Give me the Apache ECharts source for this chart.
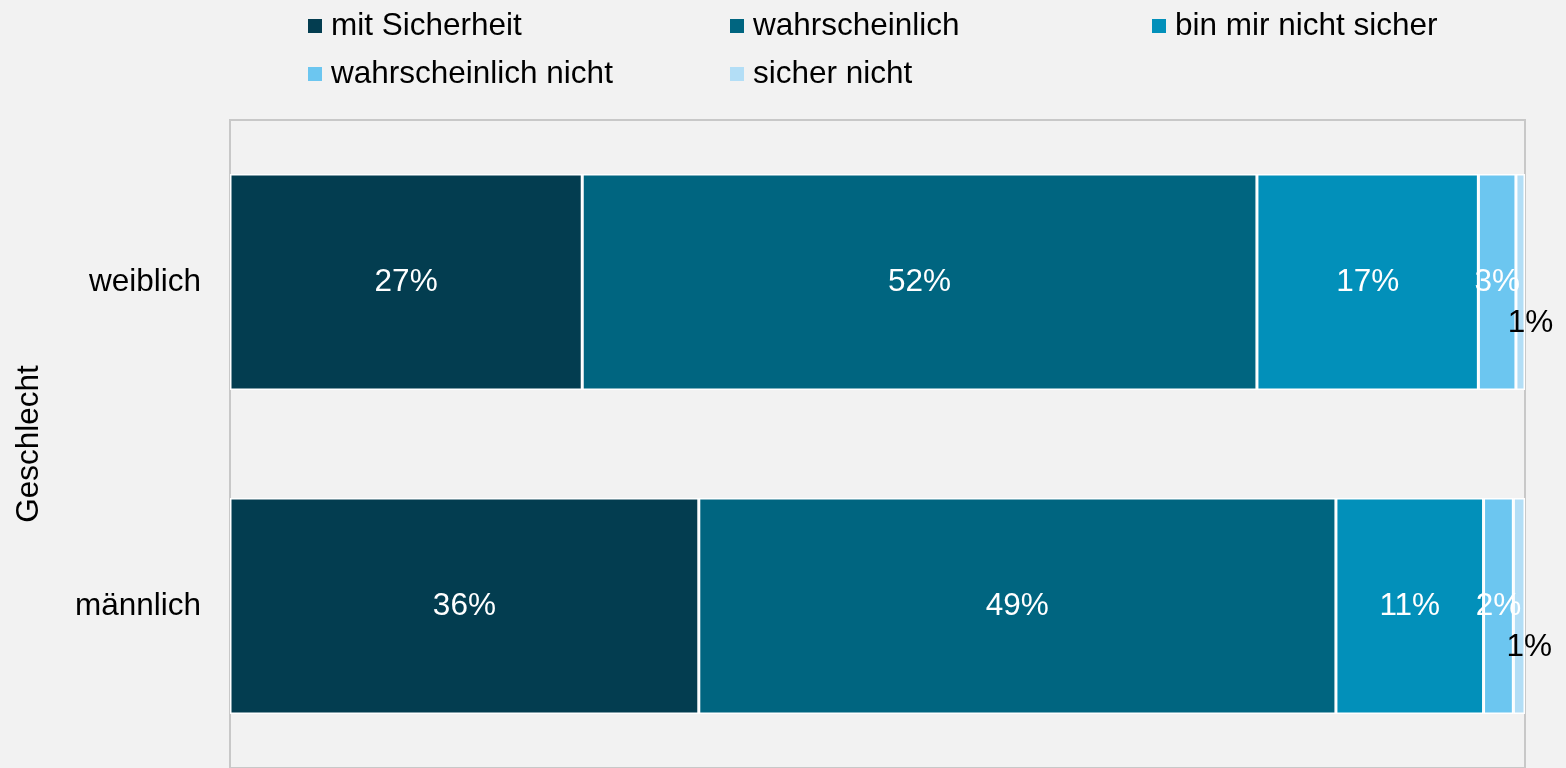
<!DOCTYPE html>
<html>
<head>
<meta charset="utf-8">
<script src="https://cdn.jsdelivr.net/npm/echarts@6/dist/echarts.min.js"></script>
<style>
  html, body { margin: 0; padding: 0; background: #F2F2F2; }
  #chart { width: 1566px; height: 768px; }
</style>
</head>
<body>
<div id="chart"></div>
<script>
// categories (top to bottom)
var categories = ['weiblich', 'männlich'];
var seriesNames = ['mit Sicherheit', 'wahrscheinlich', 'bin mir nicht sicher', 'wahrscheinlich nicht', 'sicher nicht'];
var seriesColors = ['#033D50', '#006580', '#0290BA', '#6CC6F0', '#B3DEF6'];

// shares in percent, per answer, [weiblich, männlich]
var mitSicherheit = [27.2, 36.2];
var wahrscheinlich = [52.1, 49.2];
var nichtSicher = [17.1, 11.4];
var wahrscheinlichNicht = [2.9, 2.3];
var sicherNicht = [0.7, 0.9];

var values = [mitSicherheit, wahrscheinlich, nichtSicher, wahrscheinlichNicht, sicherNicht];
var fontFamily = '"Liberation Sans", Arial, sans-serif';
var fontSize = 31.5;

var chart = echarts.init(document.getElementById('chart'));

var series = seriesNames.map(function (name, i) {
  var last = i === seriesNames.length - 1;
  return {
    name: name,
    type: 'bar',
    stack: 'total',
    barWidth: 216,
    color: seriesColors[i],
    itemStyle: { borderColor: '#FFFFFF', borderWidth: 1.5 },
    label: {
      show: true,
      position: 'inside',
      offset: last ? [10, 41] : [0, 0],
      color: last ? '#000000' : '#FFFFFF',
      fontSize: fontSize,
      fontFamily: fontFamily,
      formatter: function (p) { return Math.round(p.value) + '%'; }
    },
    data: values[i]
  };
});

chart.setOption({
  backgroundColor: '#F2F2F2',
  animation: false,
  legend: {
    data: seriesNames,
    left: 308,
    top: 8,
    padding: 0,
    width: 1300,
    itemWidth: 14,
    itemHeight: 14,
    itemGap: 12,
    icon: 'rect',
    itemStyle: { borderWidth: 0 },
    textStyle: {
      fontSize: fontSize,
      fontFamily: fontFamily,
      color: '#000000',
      width: 387,
      lineHeight: 36,
      padding: [0, 0, 0, 4]
    }
  },
  grid: {
    left: 230,
    right: 41,
    top: 120,
    bottom: -6,
    show: true,
    borderColor: '#C8C8C8',
    borderWidth: 2,
    backgroundColor: 'transparent'
  },
  xAxis: {
    type: 'value',
    min: 0,
    max: 100,
    axisLabel: { show: false },
    axisLine: { show: false },
    axisTick: { show: false },
    splitLine: { show: false }
  },
  yAxis: {
    type: 'category',
    inverse: true,
    data: categories,
    name: 'Geschlecht',
    nameLocation: 'middle',
    nameGap: 185,
    nameRotate: 90,
    nameTextStyle: { fontSize: fontSize, fontFamily: fontFamily, color: '#000000' },
    axisLine: { show: false },
    axisTick: { show: false },
    axisLabel: { fontSize: fontSize, fontFamily: fontFamily, color: '#000000', margin: 29 }
  },
  series: series
});
</script>
</body>
</html>
